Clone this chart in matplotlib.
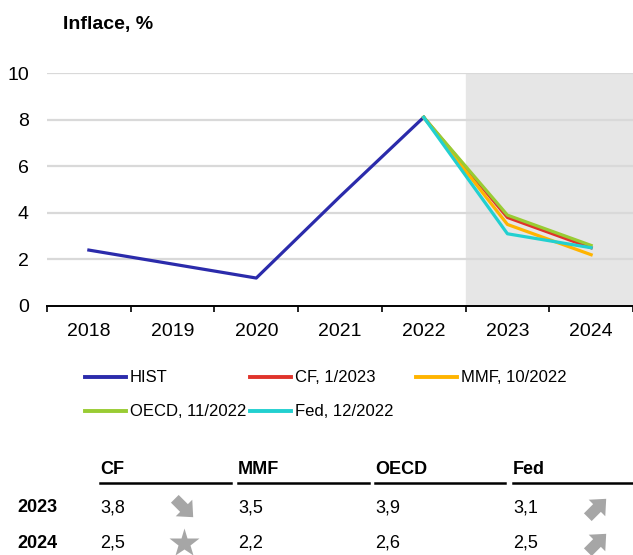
import matplotlib
matplotlib.use("Agg")
import matplotlib.pyplot as plt
from matplotlib.lines import Line2D
from matplotlib.patches import Polygon
import numpy as np

plt.rcParams['font.family'] = ['Liberation Sans', 'DejaVu Sans']

years = ['2018', '2019', '2020', '2021', '2022', '2023', '2024']
hist = [2.4, 1.8, 1.2, 4.7, 8.1]
forecast_names = ['CF, 1/2023', 'MMF, 10/2022', 'OECD, 11/2022', 'Fed, 12/2022']
forecast_vals = [
    [8.1, 3.8, 2.5],
    [8.1, 3.5, 2.2],
    [8.1, 3.9, 2.6],
    [8.1, 3.1, 2.5],
]
colors = ['#2b2bab', '#e0332b', '#ffb400', '#99cc33', '#22d0d0']

table_cols = ['CF', 'MMF', 'OECD', 'Fed']
table_rows = ['2023', '2024']
table_vals = [['3,8', '3,5', '3,9', '3,1'],
              ['2,5', '2,2', '2,6', '2,5']]
# icons next to values: column index -> icon per row
table_icons = {0: ['down', 'star'], 3: ['up', 'up']}

W, H = 633, 555
fig = plt.figure(figsize=(W / 100, H / 100), dpi=100)

def fx(px):
    return px / W

def fy(py):
    return 1 - py / H

ax = fig.add_axes([fx(47), fy(306), fx(586), (306 - 73) / H])
x = np.arange(len(years))

ax.axvspan(4.5, 7, color='#e6e6e6', zorder=0)
for v in [2, 4, 6, 8, 10]:
    ax.axhline(v, color='#d9d9d9', lw=1.6, zorder=1)

ax.plot(x[:len(hist)], hist, color=colors[0], lw=2.3, zorder=3)
for i, vals in enumerate(forecast_vals):
    ax.plot(x[4:4 + len(vals)], vals, color=colors[i + 1], lw=2.3, zorder=3)

ax.set_xlim(-0.5, 6.45)
ax.set_ylim(0, 10)
ax.set_yticks([0, 2, 4, 6, 8, 10])
ax.set_xticks(x)
ax.set_xticklabels(years)
ax.set_xticks(np.arange(-0.5, 7, 1), minor=True)
ax.tick_params(axis='x', which='major', length=0, pad=12, labelsize=14)
ax.tick_params(axis='x', which='minor', length=4, width=1.2, color='black')
ax.tick_params(axis='y', length=0, pad=13, labelsize=14)
for s in ['top', 'right', 'left']:
    ax.spines[s].set_visible(False)
ax.spines['bottom'].set_linewidth(1.4)
ax.spines['bottom'].set_zorder(4)

fig.text(fx(63), fy(25), 'Inflace, %', fontsize=14, fontweight='bold', va='center')

# legend
labels = ['HIST'] + forecast_names
pos = [(85, 377), (250, 377), (416, 377), (85, 411), (250, 411)]
for (px, py), lab, c in zip(pos, labels, colors):
    fig.add_artist(Line2D([fx(px), fx(px + 41)], [fy(py), fy(py)], color=c, lw=2.8))
    fig.text(fx(px + 45), fy(py), lab, fontsize=12, va='center')

# table
col_x = [100, 238, 375, 513]
col_end = [231, 369, 505, 633]
for j, name in enumerate(table_cols):
    fig.text(fx(col_x[j]), fy(470), name, fontsize=13, fontweight='bold', va='center')
    fig.add_artist(Line2D([fx(col_x[j]), fx(col_end[j])], [fy(483), fy(483)], color='black', lw=1.8))
row_y = [508, 543]
for i, r in enumerate(table_rows):
    fig.text(fx(17), fy(row_y[i]), r, fontsize=13, fontweight='bold', va='center')
    for j in range(len(table_cols)):
        fig.text(fx(col_x[j]), fy(row_y[i]), table_vals[i][j], fontsize=13, va='center')

# icon overlay in pixel coordinates
ov = fig.add_axes([0, 0, 1, 1], zorder=5)
ov.set_xlim(0, W)
ov.set_ylim(H, 0)
ov.axis('off')
arrow = np.array([[-1, -0.42], [0.0, -0.42], [0.0, -0.9], [1, 0],
                  [0.0, 0.9], [0.0, 0.42], [-1, 0.42]])

def block_arrow(cx, cy, angle, size=13):
    a = np.deg2rad(angle)
    rot = np.array([[np.cos(a), -np.sin(a)], [np.sin(a), np.cos(a)]])
    pts = arrow @ rot.T * size + [cx, cy]
    ov.add_patch(Polygon(pts, closed=True, color='#a6a6a6', lw=0))

for j, icons in table_icons.items():
    for i, kind in enumerate(icons):
        cx, cy = col_x[j] + 84, row_y[i]
        if kind == 'star':
            ov.plot(cx, cy, marker='*', markersize=22, color='#a6a6a6', mec='none')
        else:
            block_arrow(cx, cy, 45 if kind == 'down' else -45)

fig.savefig('out.png', dpi=100)
